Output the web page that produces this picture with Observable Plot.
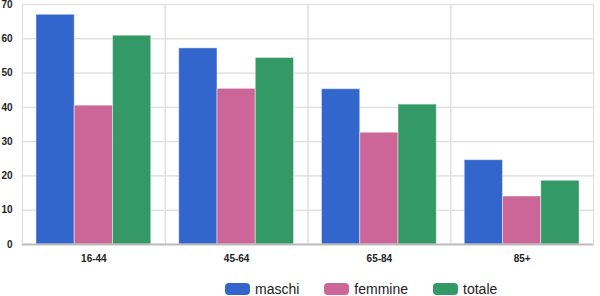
<!DOCTYPE html>
<html><head><meta charset="utf-8">
<script src="https://cdn.jsdelivr.net/npm/d3@7"></script>
<script src="https://cdn.jsdelivr.net/npm/@observablehq/plot@0.6"></script>
<style>
body{margin:0;background:#fff;font-family:"Liberation Sans",Arial,sans-serif;}
#wrap{width:600px;height:296px;position:relative;}
#legend{position:absolute;left:225px;top:282px;display:flex;align-items:center;font-size:14px;color:#222;line-height:14px;}
.item{display:flex;align-items:center;margin-right:25px;}
.sw{width:25px;height:12px;border-radius:4px;margin-right:5px;}
</style></head>
<body><div id="wrap"><div id="chart"></div><div id="legend"></div></div>
<script>
const groups = ["16-44","45-64","65-84","85+"];
const series = ["maschi","femmine","totale"];
const maschi = [67.0, 57.2, 45.3, 24.6];
const femmine = [40.5, 45.4, 32.6, 14.0];
const totale = [60.9, 54.4, 40.8, 18.6];
const colors = ["#3366cc","#cc6699","#339966"];
const yTicks = [0,10,20,30,40,50,60,70];

const seriesValues = {maschi, femmine, totale};
const data = [];
groups.forEach((g,i)=>series.forEach(s=>data.push({group:g, series:s, value:seriesValues[s][i]})));

const chart = Plot.plot({
  width:600, height:270,
  marginLeft:22, marginRight:7, marginTop:4, marginBottom:26,
  style:{fontFamily:'"Liberation Sans",Arial,sans-serif', fontSize:"10px", fontWeight:"bold", color:"#222", background:"#fff"},
  fx:{domain:groups, padding:0, round:false, label:null, axis:"bottom", tickSize:0, tickPadding:10},
  x:{domain:series, axis:null, paddingInner:0, paddingOuter:0.365, round:false},
  y:{domain:[0,70], ticks:yTicks, tickSize:0, tickPadding:10, label:null, grid:true},
  color:{domain:series, range:colors},
  marks:[
    Plot.gridY(yTicks, {stroke:"#ddd", strokeOpacity:1}),
    Plot.frame({stroke:"#ddd"}),
    Plot.barY(data, {fx:"group", x:"series", y:"value", fill:"series", stroke:"#fff", strokeOpacity:0.45, strokeWidth:1}),
    Plot.ruleY([0], {stroke:"#bbb", strokeWidth:2})
  ]
});
document.getElementById("chart").appendChild(chart);

const legend = document.getElementById("legend");
series.forEach((s,i)=>{
  const it = document.createElement("div"); it.className="item";
  const sw = document.createElement("div"); sw.className="sw"; sw.style.background=colors[i];
  const t = document.createElement("span"); t.textContent=s;
  it.appendChild(sw); it.appendChild(t); legend.appendChild(it);
});
</script></body></html>
